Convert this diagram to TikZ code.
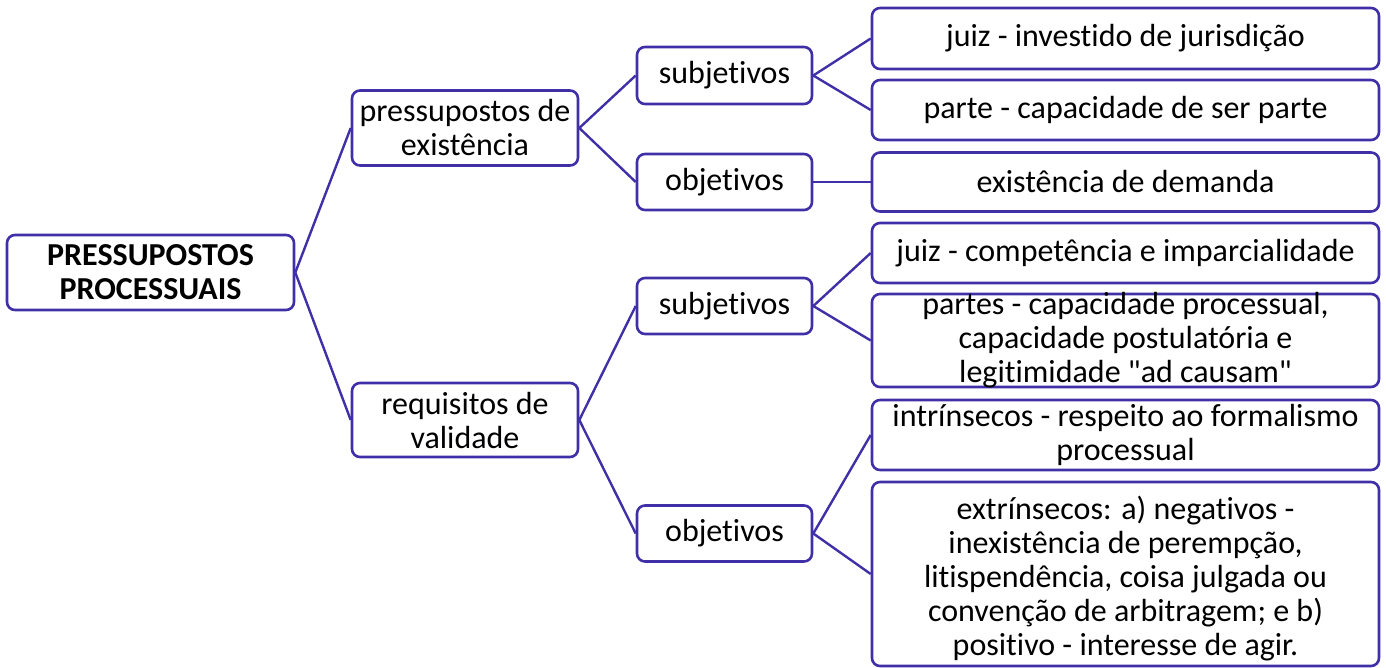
\documentclass[tikz,border=0pt]{standalone}
\usepackage{fontspec}
\setmainfont[Ligatures={NoCommon,TeXOff},Contextuals={NoAlternate},RawFeature={-liga;-clig;-dlig;-calt}]{Carlito}
\definecolor{sa}{RGB}{64,48,168}
\begin{document}
\begin{tikzpicture}[x=1pt,y=-1pt,
  box/.style={draw=sa, line width=2.6pt, rounded corners=8pt, fill=white, inner sep=0pt},
  lab/.style={align=center, inner sep=0pt, font=\fontsize{32}{34}\selectfont},
  conn/.style={draw=sa, line width=2.4pt}]
\useasboundingbox (0,0) rectangle (1386,667);
% level 0
\node[box, minimum width=287, minimum height=75, label={[lab, font=\fontsize{32}{34}\selectfont\bfseries]center:PRESSUPOSTOS\\PROCESSUAIS}] (root) at (150.5,272.5) {};
% level 1
\node[box, minimum width=226, minimum height=75, label={[lab]center:pressupostos de\\existência}] (pe) at (465,128) {};
\node[box, minimum width=226, minimum height=74, label={[lab]center:requisitos de\\validade}] (rv) at (465,420) {};
% level 2
\node[box, minimum width=175, minimum height=57, label={[lab]center:subjetivos}] (s1) at (724.5,75.5) {};
\node[box, minimum width=175, minimum height=56, label={[lab]center:objetivos}] (o1) at (724.5,182) {};
\node[box, minimum width=175, minimum height=56, label={[lab]center:subjetivos}] (s2) at (724.5,306) {};
\node[box, minimum width=175, minimum height=56, label={[lab]center:objetivos}] (o2) at (724.5,533.5) {};
% level 3
\node[box, minimum width=507, minimum height=61, label={[lab]center:juiz - investido de jurisdição}] (j1) at (1125.5,38.5) {};
\node[box, minimum width=507, minimum height=60, label={[lab]center:parte - capacidade de ser parte}] (p1) at (1125.5,110) {};
\node[box, minimum width=507, minimum height=59, label={[lab]center:existência de demanda}] (ed) at (1125.5,182) {};
\node[box, minimum width=507, minimum height=60, label={[lab]center:juiz - competência e imparcialidade}] (jc) at (1125.5,253) {};
\node[box, minimum width=507, minimum height=93, label={[lab]center:partes - capacidade processual,\\capacidade postulatória e\\legitimidade "ad causam"}] (pt) at (1125.5,340.5) {};
\node[box, minimum width=507, minimum height=70, label={[lab]center:intrínsecos - respeito ao formalismo\\processual}] (in) at (1125.5,435) {};
\node[box, minimum width=507, minimum height=184, label={[lab, yshift=-5pt]center:extrínsecos: a) negativos -\\inexistência de perempção,\\litispendência, coisa julgada ou\\convenção de arbitragem; e b)\\positivo - interesse de agir.}] (ex) at (1125.5,574) {};
% connectors
\draw[conn] (root.east) -- (pe.west);
\draw[conn] (root.east) -- (rv.west);
\draw[conn] (pe.east) -- (s1.west);
\draw[conn] (pe.east) -- (o1.west);
\draw[conn] (rv.east) -- (s2.west);
\draw[conn] (rv.east) -- (o2.west);
\draw[conn] (s1.east) -- (j1.west);
\draw[conn] (s1.east) -- (p1.west);
\draw[conn] (o1.east) -- (ed.west);
\draw[conn] (s2.east) -- (jc.west);
\draw[conn] (s2.east) -- (pt.west);
\draw[conn] (o2.east) -- (in.west);
\draw[conn] (o2.east) -- (ex.west);
\end{tikzpicture}
\end{document}
